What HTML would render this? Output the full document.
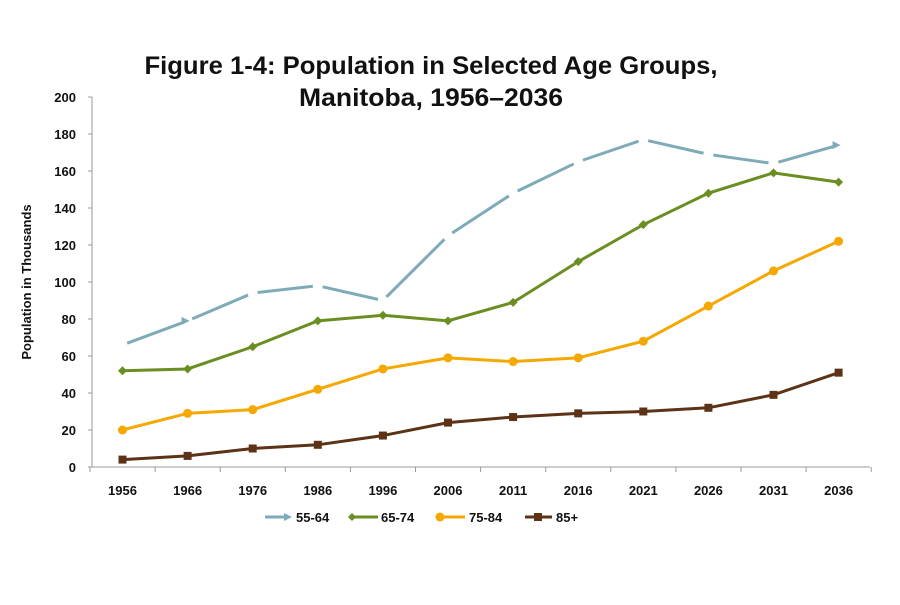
<!DOCTYPE html>
<html><head><meta charset="utf-8"><style>
body{margin:0;background:#fff}
svg text{font-family:"Liberation Sans",sans-serif;font-weight:bold;fill:#111}
</style></head><body>
<svg id="c" width="900" height="600" xmlns="http://www.w3.org/2000/svg">
<text x="431" y="74" text-anchor="middle" font-size="25" textLength="573" lengthAdjust="spacingAndGlyphs">Figure 1-4: Population in Selected Age Groups,</text>
<text x="431" y="106" text-anchor="middle" font-size="25" textLength="264" lengthAdjust="spacingAndGlyphs">Manitoba, 1956–2036</text>
<text transform="translate(31,282) rotate(-90)" text-anchor="middle" font-size="13">Population in Thousands</text>
</svg>
<script>
const s=document.getElementById('c'),NS='http://www.w3.org/2000/svg';
function el(t,a,txt){const e=document.createElementNS(NS,t);for(const k in a)e.setAttribute(k,a[k]);if(txt!=null)e.textContent=txt;s.appendChild(e);return e;}
const y=v=>467-1.85*v, x=i=>122.5+65.1*i;
el('line',{x1:92,y1:97,x2:92,y2:467,stroke:'#999'});
el('line',{x1:92,y1:467,x2:870,y2:467,stroke:'#999'});
for(let v=0;v<=200;v+=20){el('text',{x:76,y:y(v)+5,'text-anchor':'end','font-size':13},v);el('line',{x1:88,x2:92,y1:y(v),y2:y(v),stroke:'#999'});}
const yrs=[1956,1966,1976,1986,1996,2006,2011,2016,2021,2026,2031,2036];
for(let i=0;i<=12;i++)el('line',{x1:90+65.1*i,x2:90+65.1*i,y1:467,y2:472,stroke:'#999'});
yrs.forEach((t,i)=>el('text',{x:x(i),y:495,'text-anchor':'middle','font-size':13},t));
const d={a:[66,79,94,98,90,125,148,165,177,169,164,174],b:[52,53,65,79,82,79,89,111,131,148,159,154],c:[20,29,31,42,53,59,57,59,68,87,106,122],e:[4,6,10,12,17,24,27,29,30,32,39,51]};
for(let i=0;i<11;i++){const x1=x(i),y1=y(d.a[i]),x2=x(i+1),y2=y(d.a[i+1]),L=Math.hypot(x2-x1,y2-y1),ux=(x2-x1)/L,uy=(y2-y1)/L;
el('line',{x1:x1+5*ux,y1:y1+5*uy,x2:x2-5*ux,y2:y2-5*uy,stroke:'#7fabb8','stroke-width':3});}
[1,11].forEach(i=>{const X=x(i),Y=y(d.a[i]);el('path',{d:`M${X-6},${Y-4}L${X+2},${Y}L${X-6},${Y+4}Z`,fill:'#7fabb8'});});
function line(v,c){el('polyline',{points:v.map((q,i)=>x(i)+','+y(q)).join(' '),fill:'none',stroke:c,'stroke-width':3});}
line(d.b,'#6b8e23');line(d.c,'#f5a800');line(d.e,'#5c3317');
d.b.forEach((q,i)=>el('path',{d:`M${x(i)},${y(q)-4.5}l4.5,4.5l-4.5,4.5l-4.5,-4.5Z`,fill:'#6b8e23'}));
d.c.forEach((q,i)=>el('circle',{cx:x(i),cy:y(q),r:4.5,fill:'#f5a800'}));
d.e.forEach((q,i)=>el('rect',{x:x(i)-4,y:y(q)-4,width:8,height:8,fill:'#5c3317'}));
const ly=517;
el('line',{x1:265,x2:288,y1:ly,y2:ly,stroke:'#7fabb8','stroke-width':3});el('path',{d:`M284,${ly-4}L292,${ly}L284,${ly+4}Z`,fill:'#7fabb8'});
el('text',{x:296,y:ly+5,'font-size':13},'55-64');
el('line',{x1:350,x2:378,y1:ly,y2:ly,stroke:'#6b8e23','stroke-width':3});el('path',{d:`M352,${ly-4}l4,4l-4,4l-4,-4Z`,fill:'#6b8e23'});
el('text',{x:381,y:ly+5,'font-size':13},'65-74');
el('line',{x1:437,x2:465,y1:ly,y2:ly,stroke:'#f5a800','stroke-width':3});el('circle',{cx:440,cy:ly,r:4.5,fill:'#f5a800'});
el('text',{x:469,y:ly+5,'font-size':13},'75-84');
el('line',{x1:525,x2:552,y1:ly,y2:ly,stroke:'#5c3317','stroke-width':3});el('rect',{x:534,y:ly-4,width:8,height:8,fill:'#5c3317'});
el('text',{x:556,y:ly+5,'font-size':13},'85+');
</script>
</body></html>
